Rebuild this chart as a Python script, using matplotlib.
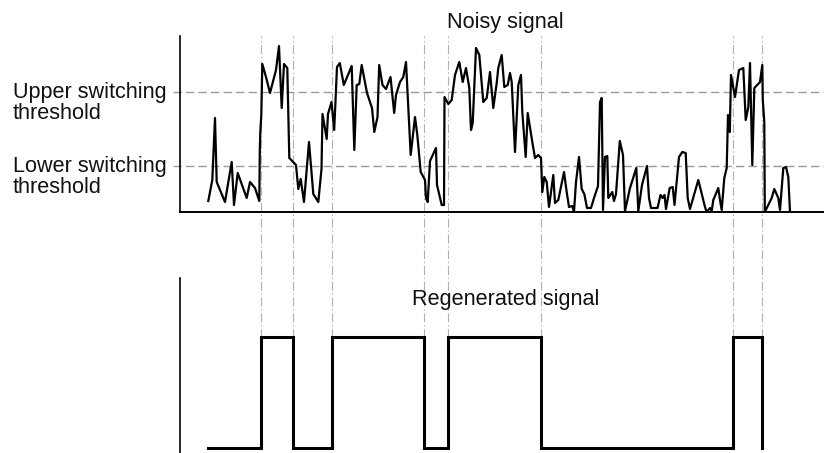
import matplotlib
matplotlib.use('Agg')
import matplotlib.pyplot as plt

plt.rcParams['font.family'] = ['Liberation Sans', 'DejaVu Sans']

# noisy input signal (time, level)
t_noisy = [208.3, 212.3, 215, 216.7, 225, 231.7, 234, 237.7, 246.7, 250, 255, 259.3,
           259.8, 260.3, 260.8, 261.3, 262.3, 266, 270, 276, 279, 281.7, 284, 287.3,
           289.3, 296, 298.3, 300.7, 304, 309, 313.3, 318.3, 321.5, 322.5, 326.7, 328,
           331.5, 334.2, 337, 339.8, 343.8, 351.7, 354.3, 356.7, 359.3, 361.7, 367, 372,
           374.3, 377.5, 379.2, 382.5, 386, 390.5, 394.2, 396, 400, 403.3, 406, 410.7,
           415, 417.3, 420.7, 425, 426, 427.7, 430, 436, 437, 441.7, 444, 444.5,
           448.3, 451.7, 455, 459.3, 462.7, 466, 469.3, 471, 472.7, 476, 479.3, 483.3,
           486.7, 490, 493.3, 496.7, 498.3, 501.7, 504.3, 507.7, 510, 511.7, 515, 518.3,
           521, 522.3, 525.7, 527.7, 532.3, 535, 538.3, 541, 542.3, 544.3, 546.7, 549,
           553.3, 555, 558.3, 564, 566.7, 569, 572.3, 574, 576, 579, 581.7, 584.3,
           587, 591, 594, 598, 600, 601.7, 603, 605, 607.3, 608.3, 612.3, 614,
           616, 619.8, 623, 625, 630, 636.3, 638.3, 642, 647, 649, 651, 657.5,
           660.5, 662.5, 664.5, 666, 669.7, 672.7, 674.5, 679, 682.3, 685.7, 687.7, 690,
           698.3, 705, 706.7, 710, 711.7, 713.3, 718.3, 720, 721.7, 724.3, 726.7, 728,
           729.8, 731, 735, 739, 743.3, 745.7, 748.3, 750, 752.3, 754.3, 760, 762.3,
           762.8, 764.3, 764.8, 771.7, 774.3, 778.3, 780, 783.3, 786, 788.3, 790]
v_noisy = [11, 32, 94, 30, 10, 50, 7, 39, 14, 30, 24, 11,
           62, 80, 89, 97, 148, 135, 119, 142, 166, 104, 148, 144,
           54, 47, 23, 33, 10, 70, 18, 10, 43, 98, 73, 98,
           110, 82, 145, 149, 127, 146, 62, 127, 128, 147, 119, 104,
           80, 95, 147, 127, 123, 135, 99, 117, 130, 135, 150, 57,
           95, 77, 40, 32, 14, 10, 51, 64, 27, 7, 7, 115,
           108, 112, 137, 150, 130, 144, 124, 82, 89, 164, 157, 110,
           114, 140, 104, 129, 144, 157, 125, 127, 139, 130, 60, 127,
           137, 100, 55, 99, 70, 54, 57, 54, 20, 35, 30, 5,
           37, 9, 12, 40, 20, 5, 6, 0, 30, 55, 23, 18,
           4, 4, 14, 26, 110, 114, 2, 55, 56, 14, 20, 11,
           18, 71, 57, 1, 24, 44, 1, 27, 46, 14, 4, 4,
           17, 14, 17, 3, 24, 25, 7, 55, 60, 59, 14, 3,
           32, 5, 0, 4, 1, 12, 24, 12, 2, 34, 44, 97,
           80, 137, 115, 142, 144, 92, 105, 149, 47, 124, 130, 147,
           112, 90, 0, 14, 23, 14, 2, 44, 45, 35, 0]

upper_threshold = 120
lower_threshold = 46

# regenerated signal: start time and switching instants (low -> high -> low ...)
wave_start = 208.3
switch_times = [261, 292.7, 331.8, 423.6, 447.7, 540.7, 733, 762]

# build the square wave from the switching instants
wave_t = [wave_start]
wave_v = [0]
level = 0
for st in switch_times:
    wave_t += [st, st]
    wave_v += [level, 1 - level]
    level = 1 - level

fig = plt.figure(figsize=(8.24, 4.53), dpi=100)
ax1 = fig.add_axes([180 / 824, 1 - 212 / 453, 644 / 824, 176 / 453])
ax2 = fig.add_axes([180 / 824, 0, 644 / 824, 175 / 453])

for ax in (ax1, ax2):
    ax.set_xlim(180, 824)
    ax.set_facecolor('none')
    ax.set_xticks([])
    ax.set_yticks([])
    ax.spines['top'].set_visible(False)
    ax.spines['right'].set_visible(False)
    ax.spines['left'].set_linewidth(1.2)
ax2.spines['bottom'].set_visible(False)
ax1.spines['bottom'].set_linewidth(1.4)

ax1.set_ylim(0, 176)
ax2.set_ylim(-5 / 111.5, 170 / 111.5)

# threshold lines
for thr, name in [(upper_threshold, 'Upper switching'), (lower_threshold, 'Lower switching')]:
    ax1.axhline(thr, xmin=-7 / 644, xmax=1, color='#9a9a9a', lw=1.0,
                linestyle=(0, (6, 3)), clip_on=False, zorder=1)
    ax1.annotate(name, xy=(0, thr), xycoords=('axes fraction', 'data'),
                 xytext=(-167, -6), textcoords='offset pixels',
                 ha='left', va='baseline', fontsize=15.6, color='#111111')
    ax1.annotate('threshold', xy=(0, thr), xycoords=('axes fraction', 'data'),
                 xytext=(-167, -27), textcoords='offset pixels',
                 ha='left', va='baseline', fontsize=15.6, color='#111111')

# vertical guides through both panels
for st in switch_times:
    ax1.axvline(st, ymin=-(448 - 212) / 176, ymax=1, color='#b0b0b0', lw=0.8,
                linestyle=(0, (8, 2.5, 1.2, 2.5)), clip_on=False, zorder=0)

ax1.plot(t_noisy, v_noisy, color='black', lw=1.6, zorder=3)
ax2.plot(wave_t, wave_v, color='black', lw=2.2, zorder=3, solid_joinstyle='miter')

ax1.text(0.505, 1 + 8 / 176, 'Noisy signal', transform=ax1.transAxes,
         ha='center', va='baseline', fontsize=15.6, color='#111111')
ax2.text(0.505, 148 / 175, 'Regenerated signal', transform=ax2.transAxes,
         ha='center', va='baseline', fontsize=15.6, color='#111111')

fig.savefig('out.png', dpi=100)
